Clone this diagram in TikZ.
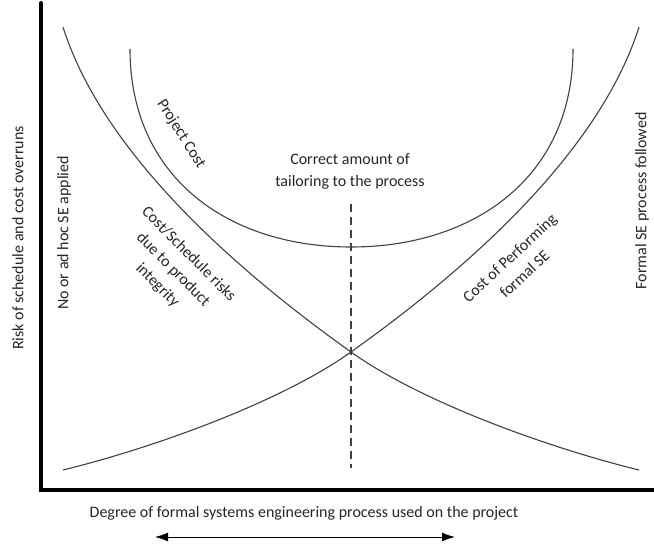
\documentclass[tikz,border=0pt]{standalone}
\usepackage{fontspec}
\setmainfont{Carlito}
\usetikzlibrary{arrows,arrows.meta}
\tikzstyle{curve} = [draw=black!75, line width=1.1pt]
\tikzstyle{axisline} = [draw=black, line width=4pt, line cap=round]
\tikzstyle{lbl} = [font=\fontsize{16}{22}\selectfont, text=black!85,
    align=center, inner sep=0pt]

\begin{document}
\begin{tikzpicture}[x=1pt, y=-1pt,
    guide/.style={draw=black!75, line width=1.1pt, dash pattern=on 8pt off 5pt},
    span/.style={draw=black, line width=1pt,
      {Latex[length=13pt,width=9pt]}-{Latex[length=13pt,width=9pt]}}]

    \useasboundingbox (0,0) rectangle (654,545);

    % axes
    \draw [axisline] (41,3) -- (41,490) -- (658,490);

    % the three curves
    \draw [curve] (63,27) .. controls (105,160) and (250,280) .. (351,352)
        .. controls (421,402) and (549,448) .. (639,470);
    \draw [curve] (639,27) .. controls (597,160) and (452,280) .. (351,352)
        .. controls (281,402) and (153,448) .. (63,470);
    \draw [curve] (130,49) .. controls (130,178) and (229,247) .. (351,247)
        .. controls (473,247) and (573,178) .. (573,49);

    % Place nodes
    \node [lbl, rotate=90] (riskAxis) at (18,238) {Risk of schedule and cost overruns};
    \node [lbl, rotate=90] (adHoc) at (64,233) {No or ad hoc SE applied};
    \node [lbl, rotate=90] (formalSE) at (642,201) {Formal SE process followed};
    \node [lbl] (degree) at (304,513) {Degree of formal systems engineering process used on the project};
    \node [lbl, rotate=-58] (projCost) at (181,134) {Project Cost};
    \node [lbl, rotate=-45] (schedRisk) at (173,270) {Cost/Schedule risks\\due to product\\integrity};
    \node [lbl] (tailoring) at (350,171) {Correct amount of\\tailoring to the process};
    \node [lbl, rotate=43] (formalCost) at (517,266) {Cost of Performing\\formal SE};

    % dashed guide and the arrow
    \coordinate (guideTop) at (351,204);
    \coordinate (guideBottom) at (351,468);
    \path [guide] (guideTop) -- (guideBottom);

    \coordinate (leftEnd) at (155,537);
    \coordinate (rightEnd) at (455,537);
    \path [span] (leftEnd) -- (rightEnd);

\end{tikzpicture}
\end{document}
